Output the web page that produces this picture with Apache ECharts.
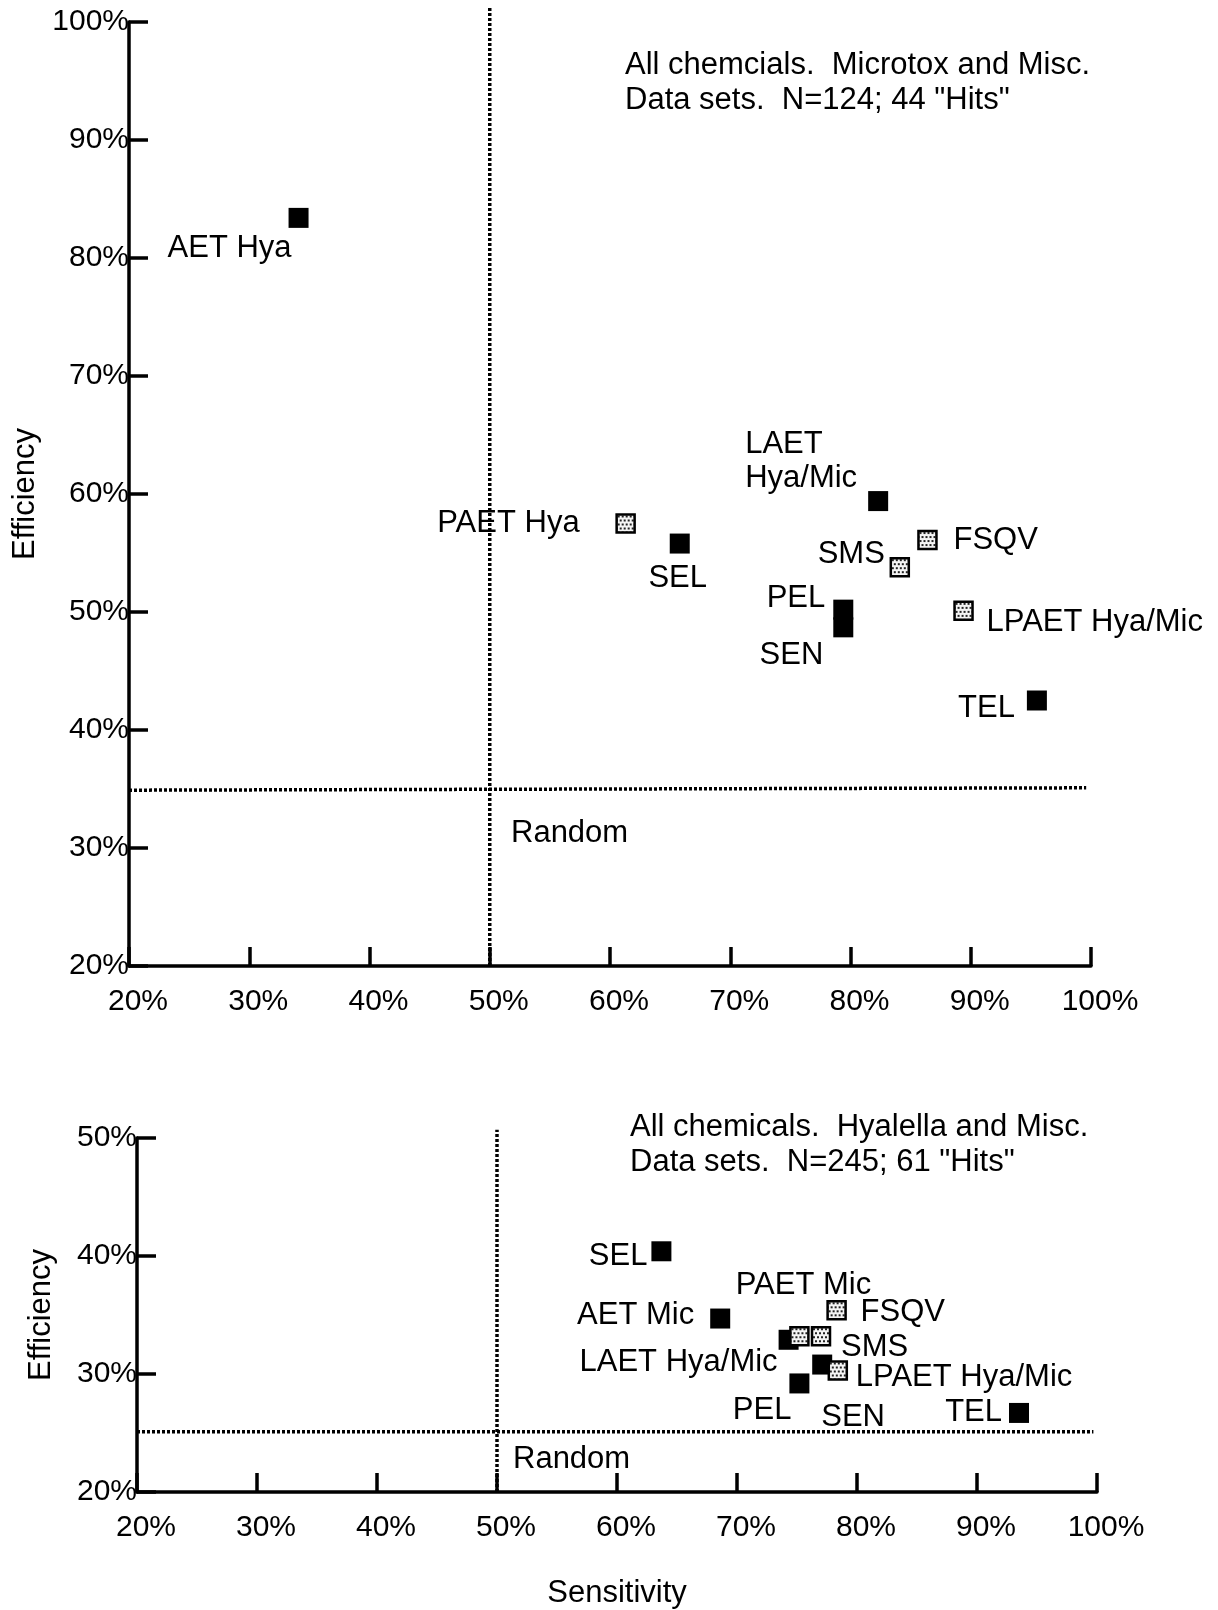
<!DOCTYPE html>
<html><head><meta charset="utf-8">
<script src="https://cdn.jsdelivr.net/npm/echarts@6/dist/echarts.min.js"></script>
<style>html,body{margin:0;padding:0;background:#fff}#c{width:1218px;height:1610px}</style>
</head><body><div id="c"></div>
<script>
// ---- data ----
const xTickValues = [20, 30, 40, 50, 60, 70, 80, 90, 100];
const topNamesSolid = ['AET Hya', 'SEL', 'LAET\nHya/Mic', 'PEL', 'SEN', 'TEL'];
const topSolid = [[34.1, 83.4], [65.8, 55.8], [82.3, 59.4], [79.4, 50.2], [79.4, 48.7], [95.5, 42.5]];
const topNamesShaded = ['PAET Hya', 'FSQV', 'SMS', 'LPAET Hya/Mic'];
const topShaded = [[61.3, 57.5], [86.4, 56.1], [84.1, 53.8], [89.4, 50.1]];
const botNamesSolid = ['SEL', 'AET Mic', 'LAET Hya/Mic', 'SEN', 'PEL', 'TEL'];
const botSolid = [[63.7, 40.4], [68.6, 34.7], [74.3, 32.9], [77.1, 30.8], [75.2, 29.2], [93.5, 26.7]];
const botNamesShaded = ['FSQV', 'PAET Mic', 'SMS', 'LPAET Hya/Mic'];
const botShaded = [[78.3, 35.4], [75.2, 33.2], [77.0, 33.2], [78.4, 30.3]];
const topRandomH = [[20, 34.9], [99.6, 35.1]];
const topRandomV = [[50, 20], [50, 101.2]];
const botRandomH = [[20, 25.1], [99.7, 25.1]];
const botRandomV = [[50, 20], [50, 50.7]];
const topNote = 'All chemcials.  Microtox and Misc.\nData sets.  N=124; 44 "Hits"';
const botNote = 'All chemicals.  Hyalella and Misc.\nData sets.  N=245; 61 "Hits"';

// ---- label layout (align, dx, dy) ----
const topSolidLbl = [['right', -7, 31], ['center', -2, 35], ['left', -133, -40], ['right', -18, -11], ['right', -20, 28], ['right', -22, 8]];
const topShadedLbl = [['right', -46, 0], ['left', 26, 0], ['right', -15, -13], ['left', 23, 12]];
const botSolidLbl = [['right', -14, 5], ['right', -26, -3], ['right', -11, 23], ['left', -1, 53], ['right', -8, 27], ['right', -17, 0]];
const botShadedLbl = [['left', 24, 2], ['center', 4, -51], ['left', 20, 11], ['left', 18, 7]];

const FONT = '"Liberation Sans", Arial, Helvetica, sans-serif';
const SHADED_SIZE = 18;

// stipple pattern for shaded squares (symbols are drawn in unit space and scaled by size/2)
const pc = document.createElement('canvas');
pc.width = 8; pc.height = 8;
const pctx = pc.getContext('2d');
pctx.fillStyle = '#f4f4f4'; pctx.fillRect(0, 0, 8, 8);
pctx.fillStyle = '#222';
pctx.fillRect(0, 0, 2, 2); pctx.fillRect(4, 0, 2, 2); pctx.fillRect(2, 4, 2, 2); pctx.fillRect(6, 4, 2, 2);
const stipple = { image: pc, repeat: 'repeat', scaleX: 2 / SHADED_SIZE, scaleY: 2 / SHADED_SIZE };

function pts(vals, names, lbl) {
  return vals.map((v, i) => ({
    value: v, name: names[i],
    label: { show: true, formatter: names[i], position: 'inside', align: lbl[i][0], offset: [lbl[i][1], lbl[i][2]] }
  }));
}
const baseLabel = { color: '#000', fontSize: 31, fontFamily: FONT, lineHeight: 34, verticalAlign: 'middle', textBorderWidth: 0 };

function xAxisOf(gi) {
  return {
    gridIndex: gi, type: 'value', min: 20, max: 100, interval: 10,
    axisLine: { show: true, lineStyle: { color: '#000', width: 3.5 } },
    axisTick: { show: true, inside: true, length: 19, lineStyle: { color: '#000', width: 3.5 } },
    axisLabel: { formatter: '{value}%', color: '#000', fontSize: 30, fontFamily: FONT, margin: 21, padding: [0, 0, 0, 18] },
    splitLine: { show: false },
    name: gi === 1 ? 'Sensitivity' : '', nameLocation: 'middle', nameGap: 86,
    nameTextStyle: { color: '#000', fontSize: 31, fontFamily: FONT }
  };
}
function yAxisOf(gi, max, gap) {
  return {
    gridIndex: gi, type: 'value', min: 20, max: max, interval: 10,
    axisLine: { show: true, lineStyle: { color: '#000', width: 3.5 } },
    axisTick: { show: true, inside: true, length: 19, lineStyle: { color: '#000', width: 3.5 } },
    axisLabel: { formatter: '{value}%', color: '#000', fontSize: 30, fontFamily: FONT, margin: 0 },
    splitLine: { show: false },
    name: 'Efficiency', nameLocation: 'middle', nameGap: gap,
    nameTextStyle: { color: '#000', fontSize: 31, fontFamily: FONT }
  };
}
function dotted(gi, data) {
  return {
    type: 'line', xAxisIndex: gi, yAxisIndex: gi, data: data, symbol: 'none', clip: false, silent: true,
    lineStyle: { color: '#000', width: 3.5, type: [3, 2] }, z: 1
  };
}
function solid(gi, vals, names, lbl) {
  return {
    type: 'scatter', xAxisIndex: gi, yAxisIndex: gi, symbol: 'rect', symbolSize: 20,
    itemStyle: { color: '#000', opacity: 1 }, label: baseLabel, data: pts(vals, names, lbl), z: 3
  };
}
function shaded(gi, vals, names, lbl) {
  return {
    type: 'scatter', xAxisIndex: gi, yAxisIndex: gi, symbol: 'rect', symbolSize: SHADED_SIZE,
    itemStyle: { color: stipple, borderColor: '#000', borderWidth: 2.5, opacity: 1 }, label: baseLabel, data: pts(vals, names, lbl), z: 4
  };
}

const chart = echarts.init(document.getElementById('c'), null, { renderer: 'canvas' });
chart.setOption({
  animation: false,
  backgroundColor: '#fff',
  grid: [
    { left: 129, top: 22, width: 962, height: 944 },
    { left: 137, top: 1138, width: 960, height: 354 }
  ],
  xAxis: [xAxisOf(0), xAxisOf(1)],
  yAxis: [yAxisOf(0, 100, 88), yAxisOf(1, 50, 80)],
  series: [
    dotted(0, topRandomH), dotted(0, topRandomV),
    dotted(1, botRandomH), dotted(1, botRandomV),
    solid(0, topSolid, topNamesSolid, topSolidLbl),
    shaded(0, topShaded, topNamesShaded, topShadedLbl),
    solid(1, botSolid, botNamesSolid, botSolidLbl),
    shaded(1, botShaded, botNamesShaded, botShadedLbl)
  ],
  graphic: [
    { type: 'text', x: 625, y: 82.5, style: { text: topNote, fill: '#000', font: '31px ' + FONT, lineHeight: 35, verticalAlign: 'middle', align: 'left' } },
    { type: 'text', x: 630, y: 1145, style: { text: botNote, fill: '#000', font: '31px ' + FONT, lineHeight: 35, verticalAlign: 'middle', align: 'left' } },
    { type: 'text', x: 511, y: 833, style: { text: 'Random', fill: '#000', font: '31px ' + FONT, verticalAlign: 'middle', align: 'left' } },
    { type: 'text', x: 513, y: 1459, style: { text: 'Random', fill: '#000', font: '31px ' + FONT, verticalAlign: 'middle', align: 'left' } }
  ]
});
</script>
</body></html>
